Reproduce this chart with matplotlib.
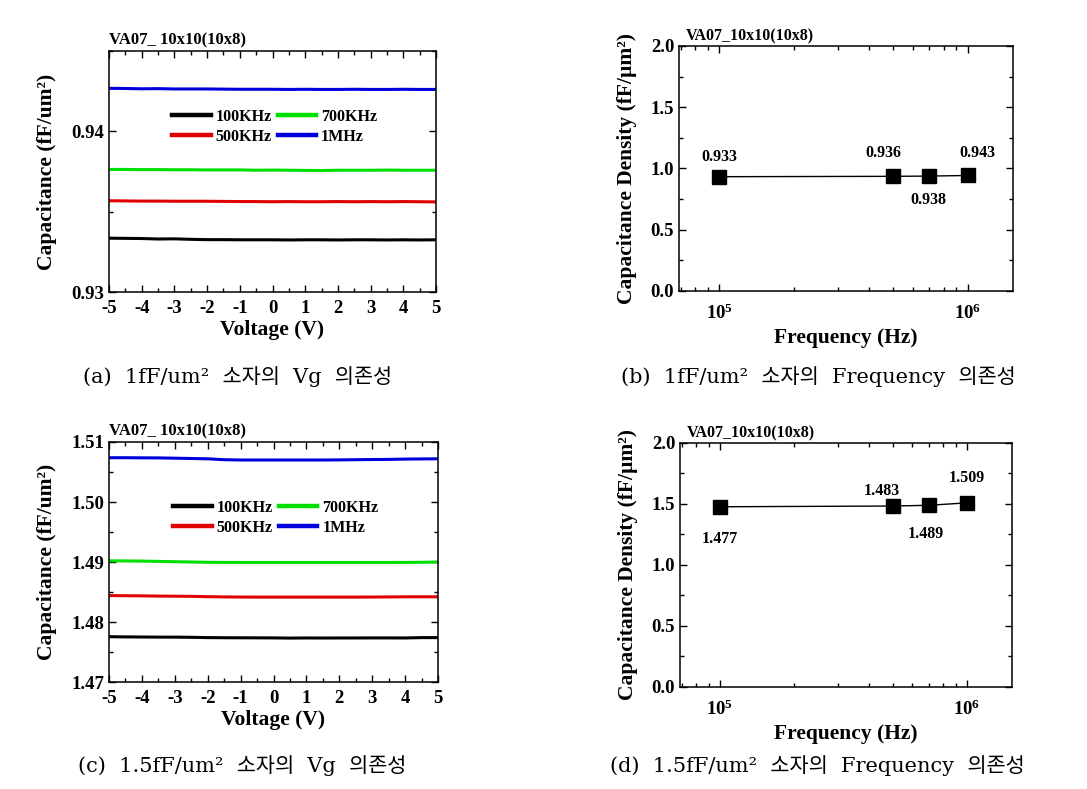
import matplotlib
matplotlib.use("Agg")
import matplotlib.pyplot as plt
import numpy as np
from matplotlib.ticker import MultipleLocator, FixedLocator, FixedFormatter, LogLocator, NullFormatter

plt.rcParams['font.family'] = ['Liberation Serif', 'Noto Sans CJK KR']
plt.rcParams['mathtext.fontset'] = 'custom'
plt.rcParams['mathtext.rm'] = 'Liberation Serif'
plt.rcParams['mathtext.bf'] = 'Liberation Serif:bold'
plt.rcParams['axes.unicode_minus'] = False

# ---- data ----
voltage = np.arange(-5, 5.01, 0.5)
freq_labels = ['100KHz', '500KHz', '700KHz', '1MHz']
line_colors = ['black', '#e00000', '#00e000', '#0000dd']

# (a) 1fF/um2 device, C-V curves
cv_a = {
    '100KHz': [0.93335, 0.93334, 0.93333, 0.93330, 0.93331, 0.93328, 0.93326, 0.93326, 0.93325, 0.93325, 0.93325,
               0.93324, 0.93325, 0.93325, 0.93324, 0.93325, 0.93325, 0.93324, 0.93325, 0.93324, 0.93325],
    '500KHz': [0.93568, 0.93567, 0.93566, 0.93566, 0.93565, 0.93565, 0.93565, 0.93564, 0.93563, 0.93563, 0.93562,
               0.93563, 0.93562, 0.93562, 0.93563, 0.93562, 0.93563, 0.93562, 0.93563, 0.93562, 0.93561],
    '700KHz': [0.93763, 0.93763, 0.93762, 0.93762, 0.93761, 0.93761, 0.93760, 0.93760, 0.93760, 0.93758, 0.93759,
               0.93758, 0.93757, 0.93756, 0.93758, 0.93758, 0.93758, 0.93759, 0.93758, 0.93758, 0.93758],
    '1MHz':   [0.94268, 0.94267, 0.94265, 0.94266, 0.94264, 0.94264, 0.94264, 0.94263, 0.94262, 0.94262, 0.94262,
               0.94261, 0.94262, 0.94261, 0.94261, 0.94262, 0.94261, 0.94261, 0.94262, 0.94261, 0.94261],
}
# (c) 1.5fF/um2 device, C-V curves
cv_c = {
    '100KHz': [1.47755, 1.47752, 1.47750, 1.47748, 1.47748, 1.47745, 1.47740, 1.47738, 1.47737, 1.47736, 1.47735,
               1.47732, 1.47734, 1.47733, 1.47734, 1.47734, 1.47735, 1.47735, 1.47734, 1.47740, 1.47740],
    '500KHz': [1.48440, 1.48438, 1.48436, 1.48432, 1.48430, 1.48428, 1.48422, 1.48418, 1.48416, 1.48415, 1.48415,
               1.48415, 1.48415, 1.48415, 1.48415, 1.48415, 1.48416, 1.48418, 1.48420, 1.48420, 1.48420],
    '700KHz': [1.49020, 1.49018, 1.49015, 1.49010, 1.49005, 1.49000, 1.48995, 1.48993, 1.48992, 1.48992, 1.48992,
               1.48992, 1.48992, 1.48992, 1.48992, 1.48992, 1.48992, 1.48992, 1.48993, 1.48995, 1.49000],
    '1MHz':   [1.50738, 1.50738, 1.50736, 1.50735, 1.50730, 1.50725, 1.50720, 1.50705, 1.50700, 1.50700, 1.50700,
               1.50700, 1.50700, 1.50700, 1.50702, 1.50705, 1.50708, 1.50710, 1.50715, 1.50718, 1.50720],
}

# (b), (d) capacitance density vs frequency
freqs = [1e5, 5e5, 7e5, 1e6]
dens_b = [0.933, 0.936, 0.938, 0.943]
dens_d = [1.477, 1.483, 1.489, 1.509]
lab_b = ['0.933', '0.936', '0.938', '0.943']
lab_d = ['1.477', '1.483', '1.489', '1.509']
off_b = [(0, 14), (-7, 17), (-1, -17), (7, 16)]
off_d = [(0, -23), (-8, 11), (-2, -21), (0, 18)]

captions = ['(a)  1fF/um²  소자의  Vg  의존성',
            '(b)  1fF/um²  소자의  Frequency  의존성',
            '(c)  1.5fF/um²  소자의  Vg  의존성',
            '(d)  1.5fF/um²  소자의  Frequency  의존성']

fig = plt.figure(figsize=(10.87, 7.89), dpi=100)


def style_axes(ax, xpad=5):
    ax.tick_params(which='both', direction='in', top=True, right=True, labelsize=13.5)
    ax.tick_params(which='major', length=5, width=1)
    ax.tick_params(which='minor', length=3, width=1)
    ax.tick_params(axis='x', which='major', pad=xpad)
    for s in ax.spines.values():
        s.set_linewidth(1.1)
    for t in ax.get_xticklabels() + ax.get_yticklabels():
        t.set_fontweight('bold')


def cv_panel(rect, data, ylim, ymaj, yfmt, title):
    ax = fig.add_axes(rect)
    for lab, c in zip(freq_labels, line_colors):
        ax.plot(voltage, data[lab], color=c, lw=2.2, label=lab)
    ax.set_xlim(-5, 5)
    ax.set_ylim(*ylim)
    ax.xaxis.set_major_locator(MultipleLocator(1))
    ax.xaxis.set_minor_locator(MultipleLocator(0.5))
    ax.yaxis.set_major_locator(MultipleLocator(ymaj))
    ax.yaxis.set_minor_locator(MultipleLocator(ymaj / 2))
    ax.yaxis.set_major_formatter(plt.FormatStrFormatter(yfmt))
    ax.set_xlabel('Voltage (V)', fontsize=15.5, fontweight='bold', labelpad=2)
    ax.set_ylabel('Capacitance (fF/um²)', fontsize=15.5, fontweight='bold', labelpad=10)
    ax.text(0.0, 1.012, title, transform=ax.transAxes, fontsize=12, fontweight='bold', va='bottom')
    leg = ax.legend(ncol=2, frameon=False,
                    loc='center', bbox_to_anchor=(0.507, 0.685), prop={'weight': 'bold', 'size': 11.5},
                    handlelength=2.4, handletextpad=0.3, columnspacing=0.4, labelspacing=0.25)
    for h in leg.get_lines():
        h.set_linewidth(3.2)
    style_axes(ax, xpad=6)
    return ax


def freq_panel(rect, dens, labs, offs, title):
    ax = fig.add_axes(rect)
    ax.plot(freqs, dens, color='black', lw=1, marker='s', ms=9.5, mfc='black', mec='black')
    for f, d, l, o in zip(freqs, dens, labs, offs):
        ax.annotate(l, (f, d), xytext=o, textcoords='offset points', ha='center', va='center',
                    fontsize=11.5, fontweight='bold')
    ax.set_xscale('log')
    ax.set_xlim(6.9e4, 1.52e6)
    ax.set_ylim(0, 2)
    ax.xaxis.set_major_locator(FixedLocator([1e5, 1e6]))
    ax.xaxis.set_major_formatter(FixedFormatter([r'$\mathbf{10^5}$', r'$\mathbf{10^6}$']))
    ax.xaxis.set_minor_locator(LogLocator(base=10, subs=np.arange(2, 10)))
    ax.xaxis.set_minor_formatter(NullFormatter())
    ax.yaxis.set_major_locator(MultipleLocator(0.5))
    ax.yaxis.set_minor_locator(MultipleLocator(0.25))
    ax.yaxis.set_major_formatter(plt.FormatStrFormatter('%.1f'))
    ax.set_xlabel('Frequency (Hz)', fontsize=15.5, fontweight='bold', labelpad=4)
    ax.set_ylabel('Capacitance Density (fF/µm²)', fontsize=15.5, fontweight='bold', labelpad=10)
    ax.text(0.02, 1.005, title, transform=ax.transAxes, fontsize=11.5, fontweight='bold', va='bottom')
    style_axes(ax, xpad=9)
    return ax


cv_panel([0.1003, 0.6299, 0.3008, 0.3054], cv_a, (0.93, 0.945), 0.01, '%.2f', 'VA07_ 10x10(10x8)')
freq_panel([0.6247, 0.6312, 0.3073, 0.3105], dens_b, lab_b, off_b, 'VA07_10x10(10x8)')
cv_panel([0.1003, 0.1356, 0.3027, 0.3042], cv_c, (1.47, 1.51), 0.01, '%.2f', 'VA07_ 10x10(10x8)')
freq_panel([0.6256, 0.1293, 0.3054, 0.3093], dens_d, lab_d, off_d, 'VA07_10x10(10x8)')

cap_pos = [(238, 377), (818, 377), (242, 766), (817, 766)]
for (cx, cy), txt in zip(cap_pos, captions):
    fig.text(cx / 1087, 1 - cy / 789, txt, ha='center', va='center', fontsize=15,
             family=['DejaVu Serif', 'Noto Sans CJK KR'])

fig.savefig('out.png', dpi=100)
